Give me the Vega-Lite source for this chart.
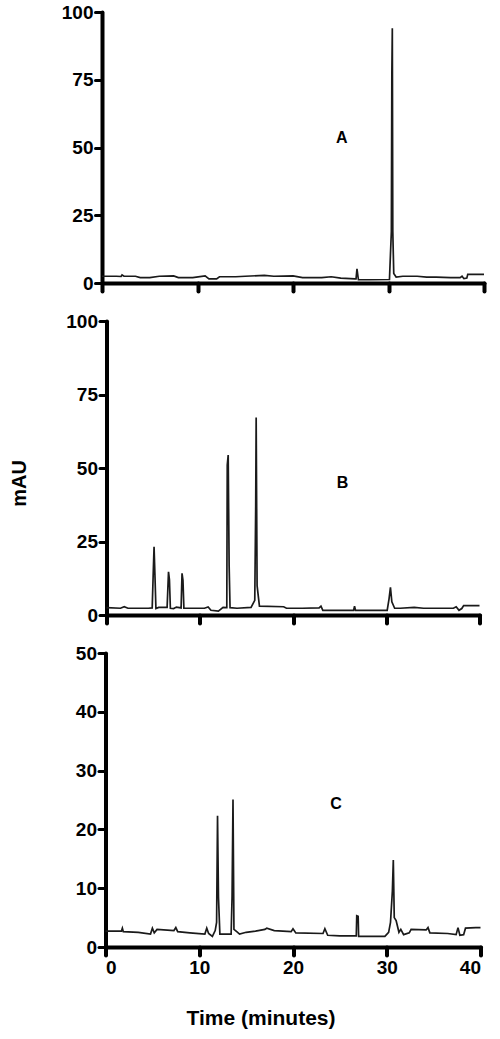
{
  "$schema": "https://vega.github.io/schema/vega-lite/v6.json",
  "padding": {"left": 9, "top": 3, "right": 10, "bottom": 5},
  "background": "white",
  "bounds": "flush",
  "center": true,
  "spacing": 38,
  "config": {
    "view": {"stroke": null},
    "font": "Liberation Sans",
    "axis": {
      "grid": false,
      "domainColor": "#000",
      "tickColor": "#000",
      "labelColor": "#000",
      "titleColor": "#000",
      "labelFont": "Liberation Sans",
      "titleFont": "Liberation Sans",
      "labelFontWeight": "bold",
      "titleFontWeight": "bold",
      "labelFontSize": 19,
      "domainWidth": 4,
      "domainCap": "round",
      "tickCap": "round"
    },
    "axisY": {"tickSize": 7, "tickWidth": 3, "labelPadding": 2},
    "axisX": {"tickSize": 8, "tickWidth": 4, "labelPadding": 3}
  },
  "datasets": {
    "trace": [
      {"panel": "A", "time": 0, "mAU": 2.5},
      {"panel": "A", "time": 1.5, "mAU": 2.5},
      {"panel": "A", "time": 2.0, "mAU": 2.4},
      {"panel": "A", "time": 2.1, "mAU": 3.0},
      {"panel": "A", "time": 2.3, "mAU": 2.5},
      {"panel": "A", "time": 3.5, "mAU": 2.5},
      {"panel": "A", "time": 4.0, "mAU": 2.0},
      {"panel": "A", "time": 5.0, "mAU": 2.0},
      {"panel": "A", "time": 6.0, "mAU": 2.5},
      {"panel": "A", "time": 7.5, "mAU": 2.6},
      {"panel": "A", "time": 8.0, "mAU": 2.0},
      {"panel": "A", "time": 9.5, "mAU": 2.0},
      {"panel": "A", "time": 10.8, "mAU": 2.6},
      {"panel": "A", "time": 11.2, "mAU": 1.5},
      {"panel": "A", "time": 12.0, "mAU": 1.5},
      {"panel": "A", "time": 12.3, "mAU": 2.3},
      {"panel": "A", "time": 14.0, "mAU": 2.3},
      {"panel": "A", "time": 15.0, "mAU": 2.5},
      {"panel": "A", "time": 17.0, "mAU": 2.8},
      {"panel": "A", "time": 18.0, "mAU": 2.5},
      {"panel": "A", "time": 20.0, "mAU": 2.6},
      {"panel": "A", "time": 21.0, "mAU": 2.0},
      {"panel": "A", "time": 23.0, "mAU": 2.0},
      {"panel": "A", "time": 24.0, "mAU": 2.3},
      {"panel": "A", "time": 25.0, "mAU": 1.8},
      {"panel": "A", "time": 26.5, "mAU": 1.5},
      {"panel": "A", "time": 26.6, "mAU": 1.5},
      {"panel": "A", "time": 26.7, "mAU": 5.2},
      {"panel": "A", "time": 26.85, "mAU": 1.2},
      {"panel": "A", "time": 28.0, "mAU": 1.2},
      {"panel": "A", "time": 30.1, "mAU": 1.3},
      {"panel": "A", "time": 30.3, "mAU": 19},
      {"panel": "A", "time": 30.35, "mAU": 77},
      {"panel": "A", "time": 30.4, "mAU": 94},
      {"panel": "A", "time": 30.45, "mAU": 19},
      {"panel": "A", "time": 30.55, "mAU": 3.5},
      {"panel": "A", "time": 30.8, "mAU": 2.2},
      {"panel": "A", "time": 31.5, "mAU": 2.5},
      {"panel": "A", "time": 33.0, "mAU": 2.5},
      {"panel": "A", "time": 34.0, "mAU": 2.2},
      {"panel": "A", "time": 35.0, "mAU": 2.2},
      {"panel": "A", "time": 36.5, "mAU": 2.0},
      {"panel": "A", "time": 37.5, "mAU": 2.0},
      {"panel": "A", "time": 37.7, "mAU": 2.5},
      {"panel": "A", "time": 37.9, "mAU": 1.6},
      {"panel": "A", "time": 38.2, "mAU": 1.8},
      {"panel": "A", "time": 38.3, "mAU": 3.2},
      {"panel": "A", "time": 40, "mAU": 3.2},

      {"panel": "B", "time": 0, "mAU": 2.5},
      {"panel": "B", "time": 1.5, "mAU": 2.3},
      {"panel": "B", "time": 1.9, "mAU": 2.8},
      {"panel": "B", "time": 2.3, "mAU": 2.3},
      {"panel": "B", "time": 4.5, "mAU": 2.3},
      {"panel": "B", "time": 4.9, "mAU": 2.4},
      {"panel": "B", "time": 5.0, "mAU": 13},
      {"panel": "B", "time": 5.1, "mAU": 23.2},
      {"panel": "B", "time": 5.2, "mAU": 13},
      {"panel": "B", "time": 5.3, "mAU": 2.2},
      {"panel": "B", "time": 5.6, "mAU": 2.6},
      {"panel": "B", "time": 6.5, "mAU": 2.6},
      {"panel": "B", "time": 6.65, "mAU": 14.7},
      {"panel": "B", "time": 6.75, "mAU": 12},
      {"panel": "B", "time": 6.85, "mAU": 2.3},
      {"panel": "B", "time": 7.2, "mAU": 2.2},
      {"panel": "B", "time": 7.5, "mAU": 2.7},
      {"panel": "B", "time": 8.0, "mAU": 2.4},
      {"panel": "B", "time": 8.1, "mAU": 14.2},
      {"panel": "B", "time": 8.2, "mAU": 11.8},
      {"panel": "B", "time": 8.3, "mAU": 2.3},
      {"panel": "B", "time": 9.0, "mAU": 2.3},
      {"panel": "B", "time": 10.5, "mAU": 2.3},
      {"panel": "B", "time": 10.9, "mAU": 2.7},
      {"panel": "B", "time": 11.2, "mAU": 1.6},
      {"panel": "B", "time": 12.0, "mAU": 1.3},
      {"panel": "B", "time": 12.5, "mAU": 2.6},
      {"panel": "B", "time": 12.9, "mAU": 2.5},
      {"panel": "B", "time": 12.95, "mAU": 51},
      {"panel": "B", "time": 13.05, "mAU": 54.4},
      {"panel": "B", "time": 13.15, "mAU": 17},
      {"panel": "B", "time": 13.25, "mAU": 2.5},
      {"panel": "B", "time": 14.0, "mAU": 2.3},
      {"panel": "B", "time": 15.5, "mAU": 2.6},
      {"panel": "B", "time": 15.9, "mAU": 5},
      {"panel": "B", "time": 16.0, "mAU": 37},
      {"panel": "B", "time": 16.05, "mAU": 67.2},
      {"panel": "B", "time": 16.15, "mAU": 10},
      {"panel": "B", "time": 16.4, "mAU": 3.0},
      {"panel": "B", "time": 19.0, "mAU": 2.8},
      {"panel": "B", "time": 19.3, "mAU": 2.3},
      {"panel": "B", "time": 21.0, "mAU": 2.3},
      {"panel": "B", "time": 22.8, "mAU": 2.4},
      {"panel": "B", "time": 23.0, "mAU": 3.0},
      {"panel": "B", "time": 23.2, "mAU": 1.6},
      {"panel": "B", "time": 26.5, "mAU": 1.6},
      {"panel": "B", "time": 26.6, "mAU": 3.0},
      {"panel": "B", "time": 26.7, "mAU": 1.6},
      {"panel": "B", "time": 30.1, "mAU": 1.6},
      {"panel": "B", "time": 30.3, "mAU": 5.5},
      {"panel": "B", "time": 30.45, "mAU": 9.4},
      {"panel": "B", "time": 30.6, "mAU": 4.5},
      {"panel": "B", "time": 30.9, "mAU": 2.3},
      {"panel": "B", "time": 31.5, "mAU": 2.3},
      {"panel": "B", "time": 33.0, "mAU": 2.6},
      {"panel": "B", "time": 34.0, "mAU": 2.3},
      {"panel": "B", "time": 35.5, "mAU": 2.3},
      {"panel": "B", "time": 37.2, "mAU": 2.3},
      {"panel": "B", "time": 37.5, "mAU": 2.8},
      {"panel": "B", "time": 37.8, "mAU": 1.6},
      {"panel": "B", "time": 38.1, "mAU": 2.2},
      {"panel": "B", "time": 38.3, "mAU": 3.2},
      {"panel": "B", "time": 40, "mAU": 3.2},

      {"panel": "C", "time": 0, "mAU": 2.7},
      {"panel": "C", "time": 1.7, "mAU": 2.7},
      {"panel": "C", "time": 1.8, "mAU": 3.2},
      {"panel": "C", "time": 1.9, "mAU": 2.6},
      {"panel": "C", "time": 3.5, "mAU": 2.5},
      {"panel": "C", "time": 4.8, "mAU": 2.2},
      {"panel": "C", "time": 5.0, "mAU": 3.2},
      {"panel": "C", "time": 5.2, "mAU": 2.4},
      {"panel": "C", "time": 5.5, "mAU": 3.0},
      {"panel": "C", "time": 7.3, "mAU": 2.8},
      {"panel": "C", "time": 7.5, "mAU": 3.3},
      {"panel": "C", "time": 7.7, "mAU": 2.6},
      {"panel": "C", "time": 9.0, "mAU": 2.4},
      {"panel": "C", "time": 10.6, "mAU": 2.2},
      {"panel": "C", "time": 10.8, "mAU": 3.2},
      {"panel": "C", "time": 11.0, "mAU": 2.3},
      {"panel": "C", "time": 11.4, "mAU": 1.8},
      {"panel": "C", "time": 11.7, "mAU": 2.8},
      {"panel": "C", "time": 11.85, "mAU": 4.2},
      {"panel": "C", "time": 11.95, "mAU": 22.3},
      {"panel": "C", "time": 12.05, "mAU": 8.5},
      {"panel": "C", "time": 12.2, "mAU": 2.2},
      {"panel": "C", "time": 13.4, "mAU": 2.2},
      {"panel": "C", "time": 13.5, "mAU": 8.5},
      {"panel": "C", "time": 13.6, "mAU": 25.1},
      {"panel": "C", "time": 13.7, "mAU": 3.0},
      {"panel": "C", "time": 14.0, "mAU": 2.6},
      {"panel": "C", "time": 14.3, "mAU": 2.2},
      {"panel": "C", "time": 15.0, "mAU": 2.5},
      {"panel": "C", "time": 16.0, "mAU": 2.7},
      {"panel": "C", "time": 17.0, "mAU": 3.0},
      {"panel": "C", "time": 17.2, "mAU": 3.2},
      {"panel": "C", "time": 18.0, "mAU": 2.8},
      {"panel": "C", "time": 19.8, "mAU": 2.6},
      {"panel": "C", "time": 20.0, "mAU": 3.1},
      {"panel": "C", "time": 20.3, "mAU": 2.4},
      {"panel": "C", "time": 23.2, "mAU": 2.3},
      {"panel": "C", "time": 23.4, "mAU": 3.1},
      {"panel": "C", "time": 23.7, "mAU": 2.0},
      {"panel": "C", "time": 25.0, "mAU": 1.9},
      {"panel": "C", "time": 26.75, "mAU": 1.9},
      {"panel": "C", "time": 26.8, "mAU": 5.3},
      {"panel": "C", "time": 26.95, "mAU": 5.2},
      {"panel": "C", "time": 27.0, "mAU": 1.8},
      {"panel": "C", "time": 29.8, "mAU": 1.8},
      {"panel": "C", "time": 30.2, "mAU": 2.5},
      {"panel": "C", "time": 30.4, "mAU": 4.2},
      {"panel": "C", "time": 30.6, "mAU": 9.5},
      {"panel": "C", "time": 30.7, "mAU": 14.8},
      {"panel": "C", "time": 30.8, "mAU": 5.0},
      {"panel": "C", "time": 31.0, "mAU": 4.5},
      {"panel": "C", "time": 31.3, "mAU": 2.5},
      {"panel": "C", "time": 31.5, "mAU": 3.0},
      {"panel": "C", "time": 31.8, "mAU": 2.1},
      {"panel": "C", "time": 32.4, "mAU": 2.4},
      {"panel": "C", "time": 32.6, "mAU": 3.0},
      {"panel": "C", "time": 34.2, "mAU": 2.9},
      {"panel": "C", "time": 34.4, "mAU": 3.3},
      {"panel": "C", "time": 34.6, "mAU": 2.4},
      {"panel": "C", "time": 36.5, "mAU": 2.3},
      {"panel": "C", "time": 37.4, "mAU": 2.1},
      {"panel": "C", "time": 37.6, "mAU": 3.3},
      {"panel": "C", "time": 37.8, "mAU": 2.0},
      {"panel": "C", "time": 38.2, "mAU": 2.1},
      {"panel": "C", "time": 38.4, "mAU": 3.2},
      {"panel": "C", "time": 39.5, "mAU": 3.3},
      {"panel": "C", "time": 40, "mAU": 3.3}
    ],
    "labels": [
      {"panel": "A", "time": 25.1, "mAU": 53.5, "text": "A"},
      {"panel": "B", "time": 25.3, "mAU": 44.9, "text": "B"},
      {"panel": "C", "time": 24.6, "mAU": 24.3, "text": "C"}
    ]
  },
  "vconcat": [
    {
      "width": 382,
      "height": 271,
      "layer": [
        {
          "data": {"name": "trace"},
          "transform": [{"filter": "datum.panel === 'A'"}],
          "mark": {"type": "line", "color": "#1a1a1a", "strokeWidth": 1.7},
          "encoding": {
            "x": {"field": "time", "type": "quantitative", "scale": {"domain": [0, 40], "nice": false},
                  "axis": {"values": [0, 10, 20, 30, 40], "labels": false, "title": null}},
            "y": {"field": "mAU", "type": "quantitative", "scale": {"domain": [0, 100], "nice": false},
                  "axis": {"values": [0, 25, 50, 75, 100], "title": null}}
          }
        },
        {
          "data": {"name": "labels"},
          "transform": [{"filter": "datum.panel === 'A'"}],
          "mark": {"type": "text", "fontSize": 16, "fontWeight": "bold", "font": "Liberation Sans", "color": "#000"},
          "encoding": {
            "x": {"field": "time", "type": "quantitative"},
            "y": {"field": "mAU", "type": "quantitative"},
            "text": {"field": "text"}
          }
        }
      ]
    },
    {
      "width": 373,
      "height": 294,
      "layer": [
        {
          "data": {"name": "trace"},
          "transform": [{"filter": "datum.panel === 'B'"}],
          "mark": {"type": "line", "color": "#1a1a1a", "strokeWidth": 1.7},
          "encoding": {
            "x": {"field": "time", "type": "quantitative", "scale": {"domain": [0, 40], "nice": false},
                  "axis": {"values": [0, 10, 20, 30, 40], "labels": false, "title": null}},
            "y": {"field": "mAU", "type": "quantitative", "scale": {"domain": [0, 100], "nice": false},
                  "axis": {"values": [0, 25, 50, 75, 100], "title": "mAU", "titleFontSize": 20,
                           "titleX": -87, "titleY": 162, "titleAngle": 270, "titleAlign": "center", "titleBaseline": "middle"}}
          }
        },
        {
          "data": {"name": "labels"},
          "transform": [{"filter": "datum.panel === 'B'"}],
          "mark": {"type": "text", "fontSize": 16, "fontWeight": "bold", "font": "Liberation Sans", "color": "#000"},
          "encoding": {
            "x": {"field": "time", "type": "quantitative"},
            "y": {"field": "mAU", "type": "quantitative"},
            "text": {"field": "text"}
          }
        }
      ]
    },
    {
      "width": 375,
      "height": 294,
      "layer": [
        {
          "data": {"name": "trace"},
          "transform": [{"filter": "datum.panel === 'C'"}],
          "mark": {"type": "line", "color": "#1a1a1a", "strokeWidth": 1.7},
          "encoding": {
            "x": {"field": "time", "type": "quantitative", "scale": {"domain": [0, 40], "nice": false},
                  "axis": {"values": [0, 10, 20, 30, 40], "title": "Time (minutes)", "titleFontSize": 21,
                           "titlePadding": 30, "titleX": 155, "titleAlign": "center"}},
            "y": {"field": "mAU", "type": "quantitative", "scale": {"domain": [0, 50], "nice": false},
                  "axis": {"values": [0, 10, 20, 30, 40, 50], "title": null}}
          }
        },
        {
          "data": {"name": "labels"},
          "transform": [{"filter": "datum.panel === 'C'"}],
          "mark": {"type": "text", "fontSize": 16, "fontWeight": "bold", "font": "Liberation Sans", "color": "#000"},
          "encoding": {
            "x": {"field": "time", "type": "quantitative"},
            "y": {"field": "mAU", "type": "quantitative"},
            "text": {"field": "text"}
          }
        }
      ]
    }
  ]
}
